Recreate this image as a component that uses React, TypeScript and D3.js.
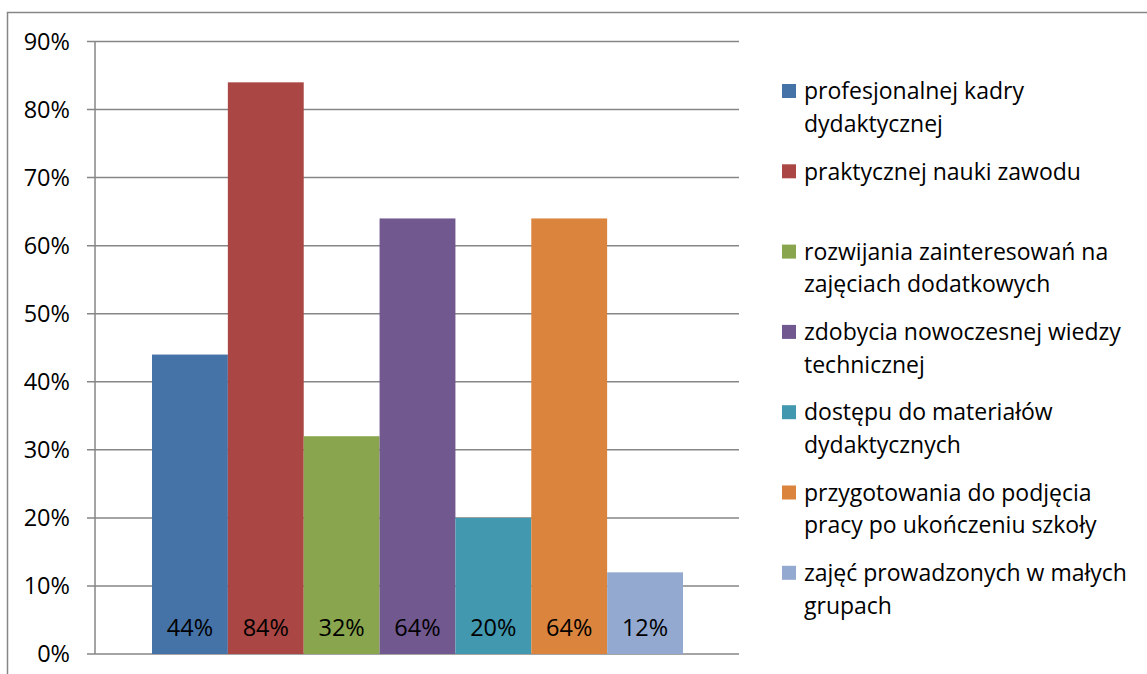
import React, { useEffect, useRef } from 'react';
import * as d3 from 'd3';

const series = [
  'profesjonalnej kadry dydaktycznej',
  'praktycznej nauki zawodu',
  'rozwijania zainteresowań na zajęciach dodatkowych',
  'zdobycia nowoczesnej wiedzy technicznej',
  'dostępu do materiałów dydaktycznych',
  'przygotowania do podjęcia pracy po ukończeniu szkoły',
  'zajęć prowadzonych w małych grupach',
];
const values = [0.44, 0.84, 0.32, 0.64, 0.2, 0.64, 0.12];
const legendLines = [
  ['profesjonalnej kadry', 'dydaktycznej'],
  ['praktycznej nauki zawodu'],
  ['rozwijania zainteresowań na', 'zajęciach dodatkowych'],
  ['zdobycia nowoczesnej wiedzy', 'technicznej'],
  ['dostępu do materiałów', 'dydaktycznych'],
  ['przygotowania do podjęcia', 'pracy po ukończeniu szkoły'],
  ['zajęć prowadzonych w małych', 'grupach'],
];
const yTicks = [0, 0.1, 0.2, 0.3, 0.4, 0.5, 0.6, 0.7, 0.8, 0.9];
const colors = ['#4572A7', '#AA4643', '#89A54E', '#71588F', '#4198AF', '#DB843D', '#93A9CF'];

const W = 1147;
const H = 674;
const FONT = '"Open Sans", sans-serif';

export default function App() {
  const svgRef = useRef<SVGSVGElement>(null);

  useEffect(() => {
    if (!svgRef.current) return;
    const svg = d3.select(svgRef.current);
    svg.selectAll('*').remove();

    // outer chart frame (runs off the right/bottom edges)
    svg.append('rect')
      .attr('x', 7.5).attr('y', 12.5)
      .attr('width', W + 20).attr('height', H + 20)
      .attr('fill', 'none').attr('stroke', '#868686').attr('stroke-width', 1.5);

    const plotLeft = 95, plotRight = 739;
    const y = d3.scaleLinear().domain([0, 0.9]).range([654, 41.5]);
    const x = d3.scaleBand<string>().domain(series).range([152, 683]).padding(0);

    // grid lines with short left ticks
    svg.append('g').selectAll('line')
      .data(yTicks)
      .enter().append('line')
      .attr('x1', 87).attr('x2', plotRight)
      .attr('y1', d => y(d)).attr('y2', d => y(d))
      .attr('stroke', '#868686').attr('stroke-width', 1.5);

    // y axis line
    svg.append('line')
      .attr('x1', plotLeft).attr('x2', plotLeft)
      .attr('y1', y(0.9)).attr('y2', y(0))
      .attr('stroke', '#868686').attr('stroke-width', 1.5);

    svg.append('g').selectAll('text')
      .data(yTicks)
      .enter().append('text')
      .attr('x', 70).attr('y', d => y(d))
      .attr('dy', '0.36em')
      .attr('text-anchor', 'end')
      .attr('font-family', FONT).attr('font-size', 23.5)
      .attr('fill', '#000')
      .text(d => d3.format('.0%')(d));

    // bars
    svg.append('g').selectAll('rect')
      .data(values)
      .enter().append('rect')
      .attr('x', (d, i) => x(series[i])!)
      .attr('width', x.bandwidth())
      .attr('y', d => y(d))
      .attr('height', d => y(0) - y(d))
      .attr('fill', (d, i) => colors[i]);

    svg.append('g').selectAll('text')
      .data(values)
      .enter().append('text')
      .attr('x', (d, i) => x(series[i])! + x.bandwidth() / 2)
      .attr('y', 628)
      .attr('dy', '0.36em')
      .attr('text-anchor', 'middle')
      .attr('font-family', FONT).attr('font-size', 23.5)
      .attr('fill', '#000')
      .text(d => d3.format('.0%')(d));

    // legend
    const lg = svg.append('g');
    legendLines.forEach((lines, i) => {
      const cy = 91 + i * 80.3;
      lg.append('rect')
        .attr('x', 782).attr('y', cy - 7)
        .attr('width', 14).attr('height', 14)
        .attr('fill', colors[i]);
      lines.forEach((ln, j) => {
        lg.append('text')
          .attr('x', 804).attr('y', cy + j * 32.5)
          .attr('dy', '0.36em')
          .attr('font-family', FONT).attr('font-size', 23)
          .attr('fill', '#000')
          .text(ln);
      });
    });
  }, []);

  return (
    <svg
      ref={svgRef}
      width={W}
      height={H}
      style={{ position: 'absolute', left: 0, top: 0, background: '#fff' }}
    />
  );
}
